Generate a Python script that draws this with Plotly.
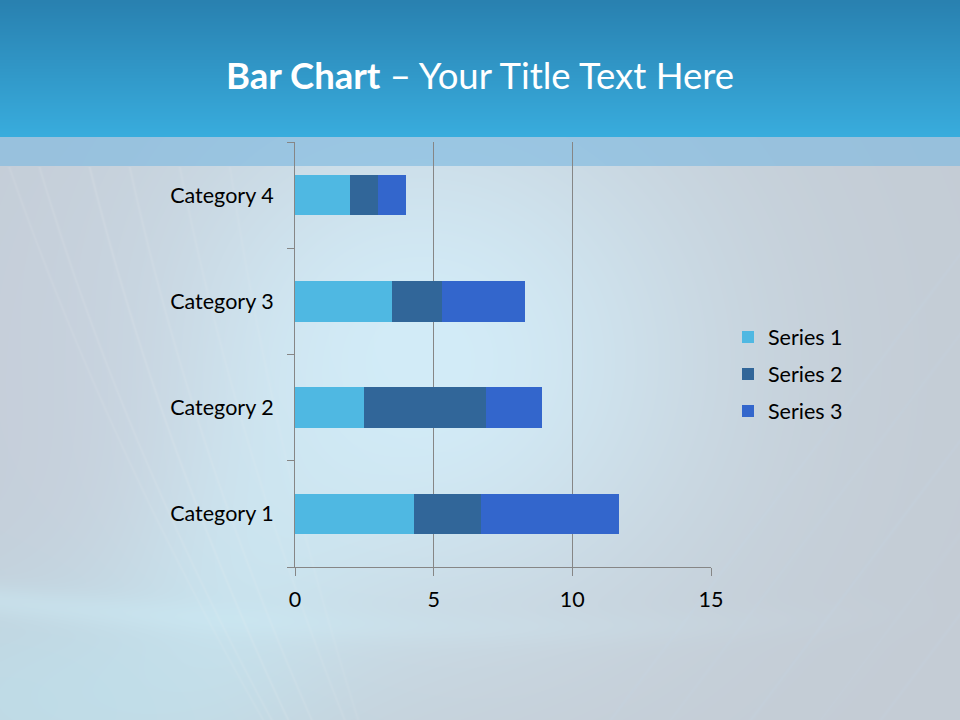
import base64, struct, zlib
import numpy as np
import plotly.graph_objects as go

# ---------------- data ----------------
categories = ["Category 1", "Category 2", "Category 3", "Category 4"]
series_names = ["Series 1", "Series 2", "Series 3"]
series_1 = [4.3, 2.5, 3.5, 2.0]
series_2 = [2.4, 4.4, 1.8, 1.0]
series_3 = [5.0, 2.0, 3.0, 1.0]
x_ticks = [0, 5, 10, 15]
colors = ["#4fb8e2", "#316699", "#3366cc"]

# ---------------- background image (slide design) ----------------
W, H = 960, 720
yy, xx = np.mgrid[0:H, 0:W].astype(float)
img = np.zeros((H, W, 3))
base = np.array([196, 204, 213], float)
img[:] = base
glow = np.exp(-((xx - 420) / 300) ** 2 - ((yy - 360) / 280) ** 2)
img = img * (1 - glow[..., None]) + np.array([211, 236, 248])[None, None, :] * glow[..., None]
# secondary glow towards the bottom-left
g2 = np.exp(-((xx - 300 + 0.35 * (yy - 400)) / 140) ** 2 - ((yy - 560) / 180) ** 2) * 0.6
img = img * (1 - g2[..., None]) + np.array([206, 236, 247])[None, None, :] * g2[..., None]
# left grayish-lavender region
left = np.exp(-((xx - 40) / 150) ** 2 - ((yy - 400) / 260) ** 2) * 0.45
img = img * (1 - left[..., None]) + np.array([198, 206, 220])[None, None, :] * left[..., None]
# bottom-left cyan
bl = np.exp(-((xx - 40) / 260) ** 2 - ((yy - 700) / 120) ** 2) * 0.6
img = img * (1 - bl[..., None]) + np.array([188, 228, 240])[None, None, :] * bl[..., None]
# horizontal light arc near bottom
arc_y = 628 - 0.00010 * (xx - 520) ** 2
arc = np.exp(-((yy - arc_y) / 16) ** 2) * np.clip(1 - xx / 950, 0, 1) * 0.35
img = img * (1 - arc[..., None]) + np.array([208, 240, 250])[None, None, :] * arc[..., None]
# curved faint streaks on the left
for x0, a, b, s in [(90, 0.25, 0.0002, 0.14), (130, 0.22, 0.0002, 0.12), (180, 0.2, 0.00018, 0.10),
                    (40, 0.3, 0.00022, 0.12), (230, 0.15, 0.00015, 0.08), (10, 0.35, 0.0002, 0.1)]:
    cx = x0 + a * (yy - 170) + b * (yy - 170) ** 2
    st = np.exp(-((xx - cx) / 1.4) ** 2) * s * (yy > 166)
    img = img * (1 - st[..., None]) + 240 * st[..., None]
# diagonal faint streaks on the right
for c, s in [(1150, 0.12), (1210, 0.10), (1290, 0.13), (1360, 0.08), (1420, 0.11), (1500, 0.08), (1560, 0.1)]:
    d = (xx + 0.75 * yy - c) / 1.25
    st = np.exp(-(d / 1.5) ** 2) * s * (xx > 560)
    img = img * (1 - st[..., None]) + np.array([195, 218, 240])[None, None, :] * st[..., None]
# translucent band below title
band = (yy >= 137) & (yy < 166)
img[band] = img[band] * 0.35 + np.array([128, 186, 224]) * 0.65
# title band gradient
top = yy < 137
t = (yy / 137.0)[..., None]
grad = np.array([41, 129, 176])[None, None, :] * (1 - t) + np.array([57, 173, 222])[None, None, :] * t
img[top] = grad[top]
img = np.clip(img, 0, 255).astype(np.uint8)


def png_bytes(arr):
    h, w, _ = arr.shape
    raw = b"".join(b"\x00" + arr[r].tobytes() for r in range(h))

    def chunk(tag, data):
        c = struct.pack(">I", len(data)) + tag + data
        return c + struct.pack(">I", zlib.crc32(tag + data) & 0xFFFFFFFF)

    return (b"\x89PNG\r\n\x1a\n"
            + chunk(b"IHDR", struct.pack(">IIBBBBB", w, h, 8, 2, 0, 0, 0))
            + chunk(b"IDAT", zlib.compress(raw, 9))
            + chunk(b"IEND", b""))


bg_uri = "data:image/png;base64," + base64.b64encode(png_bytes(img)).decode()

# ---------------- figure ----------------
FONT = "Lato, 'Open Sans', sans-serif"
L, R, T, B = 295, 249, 142, 153
PW, PH = W - L - R, H - T - B

fig = go.Figure()
for name, vals, col in zip(series_names, [series_1, series_2, series_3], colors):
    fig.add_trace(go.Bar(y=categories, x=vals, name=name, orientation="h",
                         legendgroup=name,
                         marker=dict(color=col, line=dict(width=0))))

fig.update_layout(
    width=W, height=H,
    margin=dict(l=L, r=R, t=T, b=B),
    barmode="stack", bargap=0.62,
    paper_bgcolor="rgba(0,0,0,0)", plot_bgcolor="rgba(0,0,0,0)",
    font=dict(family=FONT, size=21.5, color="#000000"),
    showlegend=True,
    legend=dict(x=(728 - L) / PW, xanchor="left", y=(H - B - 374) / PH, yanchor="middle",
                traceorder="grouped", font=dict(size=21.5), bgcolor="rgba(0,0,0,0)",
                itemwidth=30, tracegroupgap=6),
    images=[dict(source=bg_uri, xref="paper", yref="paper", x=-L / PW, y=1 + T / PH,
                 sizex=W / PW, sizey=H / PH, xanchor="left", yanchor="top", layer="below",
                 sizing="stretch")],
    annotations=[dict(text="<b>Bar Chart</b> – Your Title Text Here",
                      x=(480 - L) / PW, y=(H - B - 75) / PH, xanchor="center", yanchor="middle",
                      xref="paper", yref="paper", showarrow=False,
                      font=dict(size=36.5, color="#ffffff", family=FONT))],
)

fig.update_xaxes(range=[0, 15], tickvals=x_ticks, showgrid=True, gridcolor="#868686",
                 gridwidth=1, zeroline=False, showline=True, linecolor="#868686",
                 linewidth=1, ticks="outside", ticklen=8, tickcolor="#868686",
                 ticklabelstandoff=5, fixedrange=True)
fig.update_yaxes(showgrid=False, zeroline=False, showline=True, linecolor="#868686",
                 linewidth=1, ticks="outside", ticklen=7, tickcolor="#868686",
                 tickson="boundaries", ticklabelstandoff=16, fixedrange=True)

fig.write_html("out.html", config={"displayModeBar": False},
               post_script="document.body.style.margin='0';document.body.style.overflow='hidden';")
